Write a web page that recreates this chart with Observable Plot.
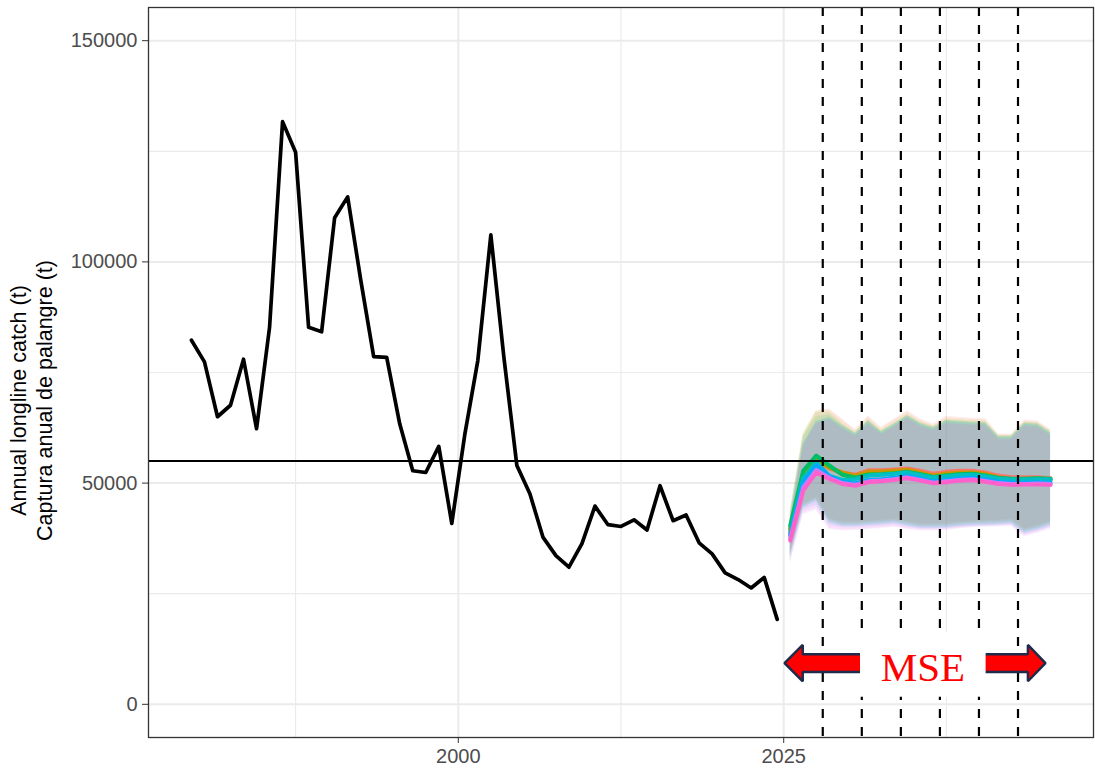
<!DOCTYPE html>
<html><head><meta charset="utf-8">
<script src="https://cdn.jsdelivr.net/npm/d3@7"></script>
<script src="https://cdn.jsdelivr.net/npm/@observablehq/plot@0.6"></script>
<style>body{margin:0;background:#fff}</style>
</head><body><div id="chart"></div>
<script>
// Historical annual longline catch (plotted at mid-year)
const histYears = [1979.5,1980.5,1981.5,1982.5,1983.5,1984.5,1985.5,1986.5,1987.5,1988.5,1989.5,1990.5,1991.5,1992.5,1993.5,1994.5,1995.5,1996.5,1997.5,1998.5,1999.5,2000.5,2001.5,2002.5,2003.5,2004.5,2005.5,2006.5,2007.5,2008.5,2009.5,2010.5,2011.5,2012.5,2013.5,2014.5,2015.5,2016.5,2017.5,2018.5,2019.5,2020.5,2021.5,2022.5,2023.5,2024.5];
const histCatch = [82300,77400,65000,67600,78000,62300,85200,131700,124800,85200,84200,110000,114700,96000,78600,78400,63400,52800,52400,58300,40900,61000,77700,106100,78500,54000,47600,37800,33600,31000,36300,44800,40600,40200,41700,39400,49400,41500,42800,36500,34000,29700,28200,26300,28700,19200];

// MSE projections
const projYears = [2025.5,2026.5,2027.5,2028.5,2029.5,2030.5,2031.5,2032.5,2033.5,2034.5,2035.5,2036.5,2037.5,2038.5,2039.5,2040.5,2041.5,2042.5,2043.5,2044.5,2045.5];
const seriesNames = ["MP1","MP2","MP3","MP4","MP5","MP6","MP7","MP8"];
const seriesColors = ["#F8766D","#CD9600","#7CAE00","#00BE67","#00BFC4","#00A9FF","#C77CFF","#FF61CC"];

const medMP1 = [39000,51000,55000,53300,52400,51900,52900,52900,53100,53300,52800,52100,52600,52800,52800,52400,51700,51300,51300,51300,51100];
const loMP1  = [34300,45300,46800,42000,41200,41200,41400,41600,41900,41300,40800,40800,40900,41200,41400,41500,41600,41800,39700,40400,41400];
const hiMP1  = [43000,60500,66000,66800,64500,62200,65200,62600,64500,66400,64500,63400,65100,64900,64700,64600,61100,61100,64300,64100,62200];

const medMP2 = [39500,51500,55500,53500,52400,51700,52600,52600,52800,53000,52400,51700,52200,52400,52400,52100,51300,50900,51000,51000,50800];
const loMP2  = [34000,45000,46500,41700,40900,40900,41100,41300,41600,41000,40500,40500,40600,40900,41100,41200,41300,41500,39400,40100,41100];
const hiMP2  = [42800,60800,66500,66500,64200,61900,64900,62300,64200,66100,64200,63100,64800,64600,64400,64300,60800,60800,64000,63800,61900];

const medMP3 = [39800,52000,55700,53700,52000,51300,52000,52100,52300,52600,52000,51400,51800,52000,52100,51700,51100,50800,50800,50900,50700];
const loMP3  = [33800,44800,46300,41500,40700,40700,40900,41100,41400,40800,40300,40300,40400,40700,40900,41000,41100,41300,39200,39900,40900];
const hiMP3  = [44000,61500,66000,66000,63500,61500,64300,61900,63600,65500,63800,62800,64400,64200,64000,63900,60800,60800,63800,63600,61700];

const medMP4 = [40400,52800,56200,54000,51900,51200,51900,52000,52200,52500,52000,51400,51700,52000,52100,51700,51200,51000,51000,51100,51000];
const loMP4  = [33500,44500,46000,41200,40400,40400,40600,40800,41100,40500,40000,40000,40100,40400,40600,40700,40800,41000,38900,39600,40600];
const hiMP4  = [43500,60500,65000,65500,63200,61300,64100,61700,63400,65300,63600,62600,64200,64000,63800,63700,60600,60600,63600,63400,61500];

const medMP5 = [38500,51000,54800,51600,50700,50900,51700,51900,52100,52400,51800,51200,51500,51800,51900,51500,51000,50800,50800,50900,50800];
const loMP5  = [33300,44300,45800,41000,40200,40200,40400,40600,40900,40300,39800,39800,39900,40200,40400,40500,40600,40800,38700,39400,40400];
const hiMP5  = [42000,59000,64000,65000,63000,61200,64000,61600,63300,65200,63500,62500,64100,63900,63700,63600,60500,60500,63500,63300,61400];

const medMP6 = [38150,50200,54000,51600,50300,49900,50700,50900,51200,51600,51000,50400,50700,51000,51200,50800,50300,50100,50100,50200,50100];
const loMP6  = [32800,43800,45000,40500,39900,39900,40100,40300,40600,40000,39600,39600,39700,40000,40200,40300,40400,40600,38400,39100,40100];
const hiMP6  = [41800,58800,63800,64800,62800,61000,63800,61400,63100,65000,63300,62300,63900,63700,63500,63400,60300,60300,63300,63100,61200];

const medMP7 = [37500,49000,53000,51200,50000,49600,50400,50600,50900,51300,50700,50100,50400,50700,50900,50500,50000,49800,49800,49900,49800];
const loMP7  = [31800,42800,43800,39500,39200,39300,39500,39700,40000,39500,39200,39200,39300,39600,39900,40000,40100,40200,37800,38600,39600];
const hiMP7  = [41500,58500,63500,64500,62500,60700,63500,61100,62800,64700,63000,62000,63600,63400,63200,63100,60000,60000,63000,62800,60900];

const medMP8 = [37000,48300,52400,50950,49800,49400,50200,50400,50700,51100,50560,49950,50200,50560,50700,50300,49800,49600,49660,49700,49600];
const loMP8  = [32200,43200,44300,39800,39400,39500,39700,39900,40200,39700,39400,39400,39500,39800,40100,40200,40300,40400,38100,38900,39900];
const hiMP8  = [41300,58300,63300,64300,62300,60500,63300,60900,62600,64500,62800,61800,63400,63200,63000,62900,59800,59800,62800,62600,60700];

const referenceCatch = [55000];
const checkpointYears = [2028,2031,2034,2037,2040,2043];

// axis ticks / grid
const yTicks = [0,50000,100000,150000];
const yMinorGrid = [25000,75000,125000];
const xTicks = [2000,2025];
const xMinorGrid = [1987.5,2012.5,2037.5];

// "MSE" double arrow annotation (data units)
const arrowX = [2025.1,2026.5,2026.5,2043.8,2043.8,2045.15];
const arrowHalf = [0,4100,1980,1980,4100,0];
const arrowCenter = [9200];
const labelBoxX = [2030.9,2040.55];
const labelBoxY = [1600,16200];
const labelPos = [{x:2035.7, y:8200, text:"MSE"}];

const yTitle = ["Annual longline catch (t)\nCaptura anual de palangre (t)"];

const meds = [medMP1,medMP2,medMP3,medMP4,medMP5,medMP6,medMP7,medMP8];
const los  = [loMP1,loMP2,loMP3,loMP4,loMP5,loMP6,loMP7,loMP8];
const his  = [hiMP1,hiMP2,hiMP3,hiMP4,hiMP5,hiMP6,hiMP7,hiMP8];

const hist = histYears.map((y,i)=>({year:y, catch:histCatch[i]}));
const proj = [];
seriesNames.forEach((s,k)=>projYears.forEach((y,i)=>proj.push({series:s, year:y, med:meds[k][i], lo:los[k][i], hi:his[k][i]})));
const arrowPts = arrowX.map((x,i)=>({x, y1:arrowCenter[0]-arrowHalf[i], y2:arrowCenter[0]+arrowHalf[i]}));
const box = [{x1:labelBoxX[0], x2:labelBoxX[1], y1:labelBoxY[0], y2:labelBoxY[1]}];

const font = "Liberation Sans, Arial, Helvetica, sans-serif";

const chart = Plot.plot({
  width: 1095, height: 768,
  marginLeft: 148, marginRight: 2, marginTop: 7, marginBottom: 31,
  style: {background:"white", fontFamily: font},
  x: {domain:[1976.2, 2048.8], axis:null},
  y: {domain:[-7500, 157500], axis:null},
  color: {domain: seriesNames, range: seriesColors},
  marks: [
    Plot.gridY(yMinorGrid, {stroke:"#EBEBEB", strokeOpacity:1, strokeWidth:1.2}),
    Plot.gridX(xMinorGrid, {stroke:"#EBEBEB", strokeOpacity:1, strokeWidth:1.2}),
    Plot.gridY(yTicks, {stroke:"#EBEBEB", strokeOpacity:1, strokeWidth:2}),
    Plot.gridX(xTicks, {stroke:"#EBEBEB", strokeOpacity:1, strokeWidth:2}),
    Plot.areaY(proj, {x:"year", y1:"lo", y2:"hi", z:"series", fill:"series", fillOpacity:0.115}),
    Plot.lineY(proj, {x:"year", y:"med", z:"series", stroke:"series", strokeWidth:4}),
    Plot.lineY(hist, {x:"year", y:"catch", stroke:"black", strokeWidth:3.7}),
    Plot.ruleY(referenceCatch, {stroke:"black", strokeWidth:2}),
    Plot.ruleX(checkpointYears, {stroke:"black", strokeWidth:2.2, strokeDasharray:"9,9"}),
    Plot.areaY(arrowPts, {x:"x", y1:"y1", y2:"y2", fill:"#FF0000", stroke:"#1F2B4A", strokeWidth:2.5, strokeLinejoin:"miter", curve:"linear"}),
    Plot.rect(box, {x1:"x1", x2:"x2", y1:"y1", y2:"y2", fill:"white"}),
    Plot.text(labelPos, {x:"x", y:"y", text:"text", fill:"#FF0000", fontSize:41, fontFamily:"Liberation Serif, Times New Roman, serif"}),
    Plot.frame({stroke:"#333333", strokeWidth:1.3}),
    Plot.axisY(yTicks, {tickSize:6, tickPadding:5, fontSize:20, fill:"#4D4D4D", stroke:"#333333", tickFormat:d=>String(d)}),
    Plot.axisX(xTicks, {tickSize:6, tickPadding:5, fontSize:20, fill:"#4D4D4D", stroke:"#333333", tickFormat:d=>String(d)}),
    Plot.text(yTitle, {frameAnchor:"left", text:d=>d, rotate:-90, dx:-118, dy:28, fontSize:21.5, lineHeight:1.2, fill:"black", textAnchor:"middle"})
  ]
});
document.getElementById("chart").appendChild(chart);
</script>
</body></html>
